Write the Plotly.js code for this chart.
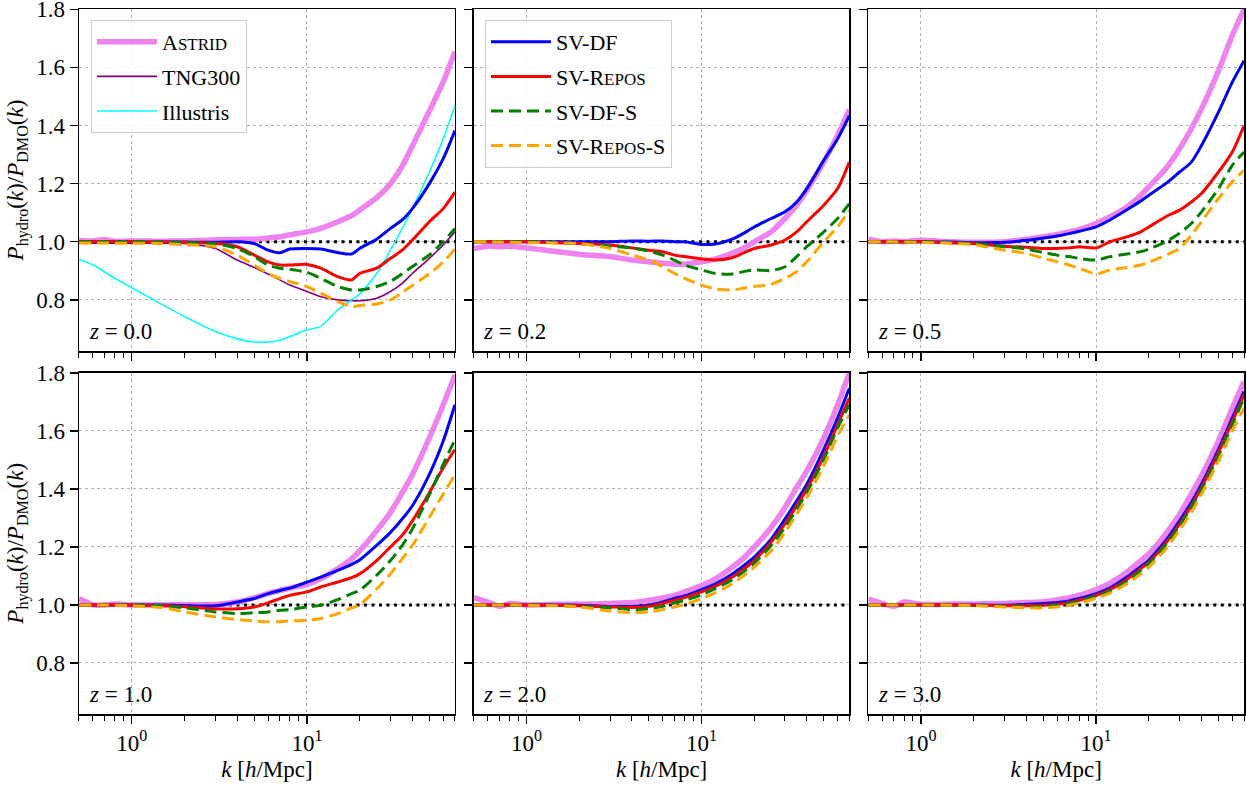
<!DOCTYPE html>
<html><head><meta charset="utf-8">
<script src="https://cdn.plot.ly/plotly-3.0.1.min.js"></script>
<style>html,body{margin:0;padding:0;background:#fff}#plot{width:1247px;height:785px}</style>
</head><body><div id="plot"></div>
<script>
// ---- data ----
const K = [0.5, 0.6, 0.7, 0.8, 1, 1.5, 2, 3, 4, 5, 6, 7, 8, 10, 12, 15, 18, 20, 25, 30, 35, 40, 50, 60, 70];
const redshiftLabels = ['0.0', '0.2', '0.5', '1.0', '2.0', '3.0'];

// z = 0.0
const astrid0 = [1.004,1.003,1.008,1.002,1.003,1.002,1.003,1.006,1.008,1.009,1.013,1.017,1.024,1.034,1.046,1.069,1.09,1.109,1.152,1.2,1.26,1.33,1.45,1.55,1.655];
const tng0 = [0.995,0.995,0.995,0.995,0.995,0.995,0.994,0.977,0.937,0.912,0.889,0.869,0.851,0.829,0.811,0.8,0.797,0.797,0.806,0.829,0.857,0.891,0.943,0.989,1.034];
const illustris0 = [0.939,0.92,0.897,0.874,0.842,0.783,0.743,0.691,0.666,0.655,0.655,0.661,0.674,0.697,0.709,0.766,0.8,0.82,0.89,0.971,1.046,1.114,1.24,1.354,1.469];
const svdf0 = [1.0,1.0,1.0,1.0,1.0,0.999,0.999,0.998,1.0,0.994,0.971,0.962,0.975,0.977,0.975,0.963,0.958,0.977,1.009,1.046,1.075,1.114,1.2,1.286,1.383];
const svrepos0 = [1.0,1.0,1.0,1.0,1.0,0.999,0.998,0.995,0.983,0.954,0.931,0.92,0.92,0.922,0.909,0.88,0.869,0.891,0.909,0.943,0.971,1.006,1.069,1.114,1.171];
const svdfs0 = [1.0,1.0,1.0,1.0,1.0,0.999,0.997,0.993,0.977,0.949,0.92,0.909,0.905,0.895,0.874,0.846,0.834,0.834,0.846,0.864,0.89,0.915,0.955,1.0,1.046];
const svrepss0 = [0.996,0.996,0.996,0.995,0.995,0.994,0.99,0.983,0.954,0.92,0.891,0.874,0.863,0.846,0.823,0.794,0.777,0.781,0.786,0.8,0.825,0.85,0.89,0.93,0.975];

// z = 0.2
const astrid02 = [0.977,0.985,0.983,0.985,0.979,0.966,0.957,0.949,0.937,0.931,0.926,0.923,0.923,0.931,0.941,0.96,0.983,1.0,1.034,1.08,1.126,1.177,1.274,1.366,1.455];
const svdf02 = [1.0,1.0,1.0,1.0,1.0,1.0,1.0,1.0,1.003,1.002,1.003,1.0,1.0,0.991,0.992,1.009,1.034,1.051,1.08,1.103,1.137,1.183,1.28,1.354,1.434];
const svrepos02 = [1.0,1.0,1.0,1.0,1.0,0.997,0.994,0.989,0.979,0.971,0.966,0.954,0.949,0.941,0.937,0.945,0.966,0.977,0.989,1.006,1.034,1.069,1.126,1.183,1.274];
const svdfs02 = [1.0,1.0,1.0,1.0,1.0,0.997,0.993,0.985,0.979,0.968,0.954,0.937,0.92,0.903,0.891,0.889,0.899,0.903,0.901,0.914,0.949,0.983,1.034,1.08,1.131];
const svrepss02 = [1.0,1.0,0.999,0.998,0.997,0.996,0.994,0.977,0.954,0.937,0.914,0.891,0.874,0.851,0.838,0.834,0.842,0.846,0.854,0.874,0.897,0.931,1.0,1.051,1.109];

// z = 0.5
const astrid05 = [1.01,1.0,1.003,1.0,1.005,1.0,0.998,1.0,1.009,1.017,1.025,1.034,1.042,1.063,1.086,1.12,1.16,1.189,1.251,1.32,1.389,1.457,1.588,1.71,1.8];
const svdf05 = [1.0,1.0,1.0,1.0,1.0,0.999,0.997,0.998,1.005,1.013,1.02,1.028,1.036,1.051,1.075,1.11,1.14,1.16,1.2,1.24,1.274,1.331,1.446,1.549,1.623];
const svrepos05 = [1.0,1.0,1.0,1.0,1.0,0.997,0.994,0.985,0.981,0.977,0.977,0.979,0.983,0.979,1.0,1.017,1.034,1.051,1.086,1.109,1.137,1.166,1.24,1.309,1.4];
const svdfs05 = [1.0,1.0,1.0,1.0,1.0,0.997,0.994,0.983,0.975,0.963,0.954,0.949,0.943,0.937,0.949,0.958,0.966,0.975,1.0,1.029,1.063,1.103,1.183,1.263,1.309];
const svrepss05 = [1.0,1.0,1.0,0.999,0.998,0.995,0.99,0.971,0.96,0.943,0.931,0.92,0.909,0.889,0.903,0.911,0.92,0.929,0.954,0.977,1.023,1.069,1.149,1.206,1.246];

// z = 1.0
const astrid1 = [1.022,1.0,1.0,1.003,1.0,1.0,1.001,1.001,1.01,1.025,1.039,1.05,1.058,1.071,1.09,1.125,1.159,1.187,1.256,1.319,1.387,1.45,1.576,1.69,1.793];
const svdf1 = [1.0,1.0,1.0,1.0,1.0,1.0,0.998,0.997,1.01,1.022,1.039,1.05,1.058,1.079,1.096,1.119,1.14,1.155,1.205,1.25,1.296,1.342,1.45,1.565,1.69];
const svrepos1 = [1.0,1.0,1.0,1.0,1.0,0.998,0.994,0.987,0.987,0.993,1.007,1.022,1.033,1.045,1.062,1.079,1.094,1.107,1.153,1.2,1.24,1.29,1.387,1.473,1.536];
const svdfs1 = [1.0,1.0,1.0,1.0,1.0,0.997,0.99,0.976,0.97,0.973,0.976,0.982,0.984,0.993,0.999,1.018,1.039,1.05,1.102,1.153,1.205,1.262,1.38,1.485,1.57];
const svrepss1 = [1.0,1.0,1.0,0.999,0.997,0.99,0.976,0.959,0.95,0.945,0.942,0.942,0.945,0.947,0.953,0.97,0.99,1.0,1.055,1.107,1.159,1.205,1.302,1.382,1.45];

// z = 2.0
const astrid2 = [1.025,1.01,0.995,1.005,1.0,1.002,1.002,1.005,1.008,1.016,1.024,1.033,1.045,1.067,1.09,1.13,1.17,1.199,1.267,1.336,1.405,1.462,1.576,1.69,1.8];
const svdf2 = [1.0,1.0,1.0,1.0,1.0,1.0,0.999,0.995,0.995,0.999,1.01,1.022,1.031,1.053,1.073,1.107,1.142,1.165,1.227,1.296,1.359,1.416,1.536,1.645,1.747];
const svrepos2 = [1.0,1.0,1.0,1.0,1.0,0.999,0.997,0.993,0.991,0.995,1.005,1.016,1.025,1.045,1.064,1.096,1.13,1.153,1.216,1.279,1.342,1.399,1.513,1.622,1.713];
const svdfs2 = [1.0,1.0,1.0,1.0,1.0,0.998,0.995,0.99,0.984,0.987,0.995,1.007,1.016,1.035,1.056,1.087,1.121,1.144,1.205,1.267,1.33,1.387,1.502,1.61,1.69];
const svrepss2 = [1.0,1.0,1.0,1.0,0.999,0.997,0.993,0.979,0.974,0.976,0.984,0.993,1.002,1.022,1.042,1.073,1.107,1.13,1.187,1.25,1.313,1.37,1.479,1.582,1.656];

// z = 3.0
const astrid3 = [1.02,1.005,0.995,1.01,1.002,1.003,1.003,1.005,1.008,1.011,1.018,1.025,1.033,1.053,1.075,1.113,1.153,1.176,1.245,1.313,1.382,1.445,1.565,1.679,1.77];
const svdf3 = [1.0,1.0,1.0,1.0,1.0,1.0,1.0,0.999,1.002,1.005,1.008,1.014,1.022,1.039,1.059,1.096,1.133,1.155,1.222,1.29,1.353,1.416,1.536,1.645,1.736];
const svrepos3 = [1.0,1.0,1.0,1.0,1.0,1.0,0.999,0.997,0.997,0.999,1.002,1.008,1.016,1.033,1.053,1.088,1.125,1.147,1.213,1.279,1.342,1.405,1.525,1.633,1.725];
const svdfs3 = [1.0,1.0,1.0,1.0,1.0,1.0,0.998,0.996,0.994,0.995,0.999,1.005,1.013,1.03,1.048,1.082,1.119,1.142,1.207,1.273,1.336,1.398,1.513,1.622,1.713];
const svrepss3 = [1.0,1.0,1.0,1.0,1.0,0.999,0.998,0.993,0.99,0.99,0.993,0.999,1.007,1.023,1.041,1.073,1.107,1.13,1.193,1.258,1.319,1.382,1.496,1.6,1.679];

const refK = [0.5, 70];
const refLine = [1, 1];

const xTickVals = [1, 10];
const xTickText = ['10<sup>0</sup>', '10<sup>1</sup>'];
const xMinorVals = [0.5,0.6,0.7,0.8,0.9,2,3,4,5,6,7,8,9,20,30,40,50,60,70];
const yTickVals = [0.8, 1.0, 1.2, 1.4, 1.6, 1.8];
const yTickText = ['0.8', '1.0', '1.2', '1.4', '1.6', '1.8'];

const seriesNames = {
  astrid: 'A<span style="font-size:17px">STRID</span>',
  tng: 'TNG300',
  illustris: 'Illustris',
  svdf: 'SV-DF',
  svrepos: 'SV-R<span style="font-size:17px">EPOS</span>',
  svdfs: 'SV-DF-S',
  svrepss: 'SV-R<span style="font-size:17px">EPOS</span>-S'
};

const panels = [
  {astrid: astrid0, svdf: svdf0, svrepos: svrepos0, svdfs: svdfs0, svrepss: svrepss0, tng: tng0, illustris: illustris0},
  {astrid: astrid02, svdf: svdf02, svrepos: svrepos02, svdfs: svdfs02, svrepss: svrepss02},
  {astrid: astrid05, svdf: svdf05, svrepos: svrepos05, svdfs: svdfs05, svrepss: svrepss05},
  {astrid: astrid1, svdf: svdf1, svrepos: svrepos1, svdfs: svdfs1, svrepss: svrepss1},
  {astrid: astrid2, svdf: svdf2, svrepos: svrepos2, svdfs: svdfs2, svrepss: svrepss2},
  {astrid: astrid3, svdf: svdf3, svrepos: svrepos3, svdfs: svdfs3, svrepss: svrepss3}
];

// ---- styling ----
const FONT = 'Liberation Serif';
const styles = {
  astrid: {color: '#EE82EE', width: 5.5, dash: 'solid', legend: 'legend'},
  tng: {color: '#800080', width: 1.6, dash: 'solid', legend: 'legend'},
  illustris: {color: '#00FFFF', width: 1.6, dash: 'solid', legend: 'legend'},
  svdf: {color: '#0000FF', width: 3, dash: 'solid', legend: 'legend2'},
  svrepos: {color: '#FF0000', width: 3, dash: 'solid', legend: 'legend2'},
  svdfs: {color: '#008000', width: 3, dash: '12px,6px', legend: 'legend2'},
  svrepss: {color: '#FFA500', width: 3, dash: '12px,6px', legend: 'legend2'}
};
const order = ['astrid', 'tng', 'illustris', 'svdf', 'svrepos', 'svdfs', 'svrepss'];

const xDomains = [[0, 0.3227], [0.339, 0.6612], [0.6775, 1]];
const yDomains = [[0.5148, 1], [0, 0.4842]];

const traces = [];
const layout = {
  width: 1247, height: 785,
  margin: {l: 79, r: 3, t: 9, b: 71},
  paper_bgcolor: '#fff', plot_bgcolor: '#fff',
  font: {family: FONT, size: 23, color: '#000'},
  showlegend: true,
  legend: {x: 0.0103, y: 0.9844, xanchor: 'left', yanchor: 'top', bgcolor: 'rgba(255,255,255,0.85)',
    bordercolor: '#cccccc', borderwidth: 1, font: {family: FONT, size: 22, color: '#000'},
    tracegroupgap: 3, itemwidth: 60},
  legend2: {x: 0.3485, y: 0.9844, xanchor: 'left', yanchor: 'top', bgcolor: 'rgba(255,255,255,0.85)',
    bordercolor: '#cccccc', borderwidth: 1, font: {family: FONT, size: 22, color: '#000'},
    tracegroupgap: 3, itemwidth: 60},
  annotations: []
};

panels.forEach((p, i) => {
  const s = i === 0 ? '' : String(i + 1);
  const row = Math.floor(i / 3), col = i % 3;
  traces.push({x: refK, y: refLine, xaxis: 'x' + s, yaxis: 'y' + s, mode: 'lines', showlegend: false,
    hoverinfo: 'skip', line: {color: '#000', width: 3, dash: '3px,4.5px'}});
  order.forEach(key => {
    if (!p[key]) return;
    const st = styles[key];
    traces.push({
      x: K, y: p[key], xaxis: 'x' + s, yaxis: 'y' + s, mode: 'lines',
      name: seriesNames[key], legend: st.legend, legendgroup: key,
      showlegend: i === 0,
      line: {color: st.color, width: st.width, dash: st.dash, shape: 'spline', smoothing: 0.7}
    });
  });
  const xa = {
    domain: xDomains[col], anchor: 'y' + s, type: 'log', range: [-0.301, 1.845],
    tickmode: 'array', tickvals: xTickVals, ticktext: xTickText,
    ticks: 'outside', ticklen: 8, tickwidth: 1.3, tickcolor: '#000',
    showline: true, mirror: true, linecolor: '#000', linewidth: 1.5,
    showgrid: true, gridcolor: '#b0b0b0', griddash: 'dot', gridwidth: 1, zeroline: false,
    minor: {tickmode: 'array', tickvals: xMinorVals, ticks: 'outside', ticklen: 5, tickwidth: 1, tickcolor: '#000', showgrid: false},
    showticklabels: row === 1, tickfont: {family: FONT, size: 23, color: '#000'},
    ticklabeloverflow: 'allow', automargin: false, fixedrange: true
  };
  if (row === 1) xa.title = {text: '<i>k</i> [<i>h</i>/Mpc]', font: {family: FONT, size: 23, color: '#000'}, standoff: 6};
  const ya = {
    domain: yDomains[row], anchor: 'x' + s, range: [0.624, 1.8008],
    tickmode: 'array', tickvals: yTickVals, ticktext: yTickText,
    ticks: 'outside', ticklen: 8, tickwidth: 1.3, tickcolor: '#000',
    showline: true, mirror: true, linecolor: '#000', linewidth: 1.5,
    showgrid: true, gridcolor: '#b0b0b0', griddash: 'dot', gridwidth: 1, zeroline: false,
    showticklabels: col === 0, tickfont: {family: FONT, size: 23, color: '#000'},
    ticklabeloverflow: 'allow', automargin: false, fixedrange: true
  };
  if (col === 0) ya.title = {text: '<i>P</i><sub>hydro</sub>(<i>k</i>)/<i>P</i><sub>DMO</sub>(<i>k</i>)', font: {family: FONT, size: 23, color: '#000'}, standoff: 6};
  layout['xaxis' + s] = xa;
  layout['yaxis' + s] = ya;
  layout.annotations.push({
    xref: 'x' + s + ' domain', yref: 'y' + s + ' domain', x: 0.02, y: 0.015,
    xanchor: 'left', yanchor: 'bottom', showarrow: false,
    text: '<i>z</i> = ' + redshiftLabels[i], font: {family: FONT, size: 23, color: '#000'}
  });
});

Plotly.newPlot('plot', traces, layout, {displayModeBar: false, staticPlot: true});
</script>
</body></html>
